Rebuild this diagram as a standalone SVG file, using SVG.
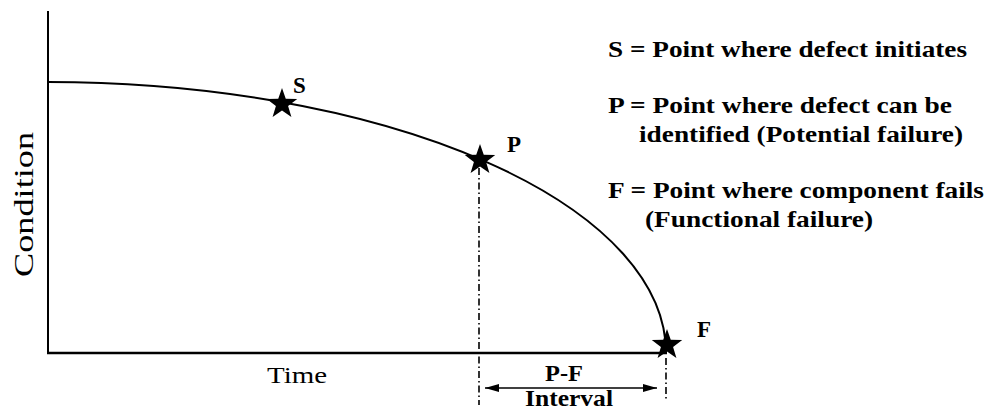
<svg xmlns="http://www.w3.org/2000/svg" xmlns:xlink="http://www.w3.org/1999/xlink" width="987" height="412" viewBox="0 0 987 412">
  <style>
    text { font-family: 'Liberation Serif', 'Times New Roman', Times, serif; fill: #000; }
    .b { font-weight: bold; font-size: 23px; }
    .n { font-weight: normal; font-size: 24px; }
    .axis { stroke: #000; fill: none; }
    .dd { stroke: #000; stroke-width: 1.6; stroke-dasharray: 7 3 1.5 3; fill: none; }
  </style>
  <defs>
    <path id="star" d="M0,-16 L3.762,-5.178 L15.217,-4.944 L6.087,1.978 L9.405,12.944 L0,6.4 L-9.405,12.944 L-6.087,1.978 L-15.217,-4.944 L-3.762,-5.178 Z" fill="#000"/>
    <marker id="ah" viewBox="0 0 14 8" refX="14" refY="4" markerWidth="14" markerHeight="8" markerUnits="userSpaceOnUse" orient="auto-start-reverse">
      <path d="M0,0 L14,4 L0,8 Z" fill="#000"/>
    </marker>
  </defs>
  <rect width="987" height="412" fill="#fff"/>

  <g id="axes">
    <line class="axis" x1="48" y1="11" x2="48" y2="354" stroke-width="2"/>
    <line class="axis" x1="47" y1="353" x2="667" y2="353" stroke-width="2.5"/>
    <text class="n" font-family="Liberation Serif, serif" transform="translate(33,204.5) rotate(-90) scale(1,1.18)" text-anchor="middle" font-size="26" textLength="145" lengthAdjust="spacingAndGlyphs">Condition</text>
    <text class="n" font-family="Liberation Serif, serif" x="267" y="383" textLength="60" lengthAdjust="spacingAndGlyphs">Time</text>
  </g>

  <g id="curve">
    <path class="axis" d="M48,82 A618,271 0 0 1 666,353" stroke-width="2"/>
  </g>

  <g id="connectors">
    <line class="dd" x1="479" y1="168" x2="479" y2="405"/>
    <line class="dd" x1="666" y1="358" x2="666" y2="399"/>
    <line x1="485" y1="388" x2="657" y2="388" stroke="#000" stroke-width="1.6" marker-start="url(#ah)" marker-end="url(#ah)"/>
  </g>

  <g id="node-S">
    <use xlink:href="#star" href="#star" x="282" y="104"/>
    <text class="b" x="293" y="93">S</text>
  </g>
  <g id="node-P">
    <use xlink:href="#star" href="#star" x="480" y="160"/>
    <text class="b" x="507" y="152">P</text>
  </g>
  <g id="node-F">
    <use xlink:href="#star" href="#star" x="667" y="345"/>
    <text class="b" x="697" y="337">F</text>
  </g>

  <g id="interval-label">
    <text class="b" x="545" y="381" textLength="38" lengthAdjust="spacingAndGlyphs">P-F</text>
    <text class="b" x="525" y="406" textLength="88" lengthAdjust="spacingAndGlyphs">Interval</text>
  </g>

  <g id="legend">
    <text class="b" x="608" y="57" textLength="359" lengthAdjust="spacingAndGlyphs">S = Point where defect initiates</text>
    <text class="b" x="608" y="113" textLength="344" lengthAdjust="spacingAndGlyphs">P = Point where defect can be</text>
    <text class="b" x="639" y="142" textLength="324" lengthAdjust="spacingAndGlyphs">identified (Potential failure)</text>
    <text class="b" x="608" y="198" textLength="376" lengthAdjust="spacingAndGlyphs">F = Point where component fails</text>
    <text class="b" x="645" y="227" textLength="228" lengthAdjust="spacingAndGlyphs">(Functional failure)</text>
  </g>
</svg>
